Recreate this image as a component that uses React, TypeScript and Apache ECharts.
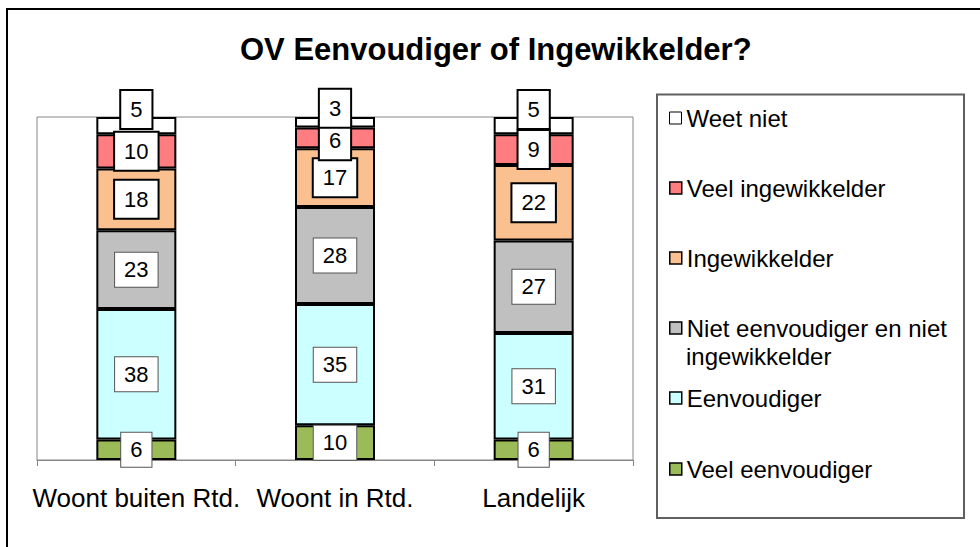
import React, { useEffect, useRef } from "react";
import * as echarts from "echarts";

const categories = ["Woont buiten Rtd.", "Woont in Rtd.", "Landelijk"];

// stacked from bottom to top
const seriesNames = [
  "Veel eenvoudiger",
  "Eenvoudiger",
  "Niet eenvoudiger en niet ingewikkelder",
  "Ingewikkelder",
  "Veel ingewikkelder",
  "Weet niet",
];
const veelEenvoudiger = [6, 10, 6];
const eenvoudiger = [38, 35, 31];
const nietNiet = [23, 28, 27];
const ingewikkelder = [18, 17, 22];
const veelIngewikkelder = [10, 6, 9];
const weetNiet = [5, 3, 5];

const seriesValues = [veelEenvoudiger, eenvoudiger, nietNiet, ingewikkelder, veelIngewikkelder, weetNiet];
const seriesColors = ["#9BBB59", "#CCFFFF", "#C0C0C0", "#FAC090", "#FF7C80", "#FFFFFF"];

// legend order, top to bottom
const legendOrder = [5, 4, 3, 2, 1, 0];

const FONT = "'Liberation Sans', Arial, sans-serif";

export default function App() {
  const ref = useRef<HTMLDivElement>(null);

  useEffect(() => {
    if (!ref.current) return;
    const chart = echarts.init(ref.current, null, { renderer: "svg" });

    const totals = categories.map((_, ci) =>
      seriesValues.reduce((s, arr) => s + arr[ci], 0)
    );

    // label layout tweaks (Excel-style moved labels)
    const labelOffsets: Record<number, number[][]> = {
      5: [[0, -16], [0, -14], [0, -16]],
      4: [[0, 0], [0, 3], [0, 0]],
    };

    const series = seriesNames.map((name, si) => {
      const thick = si >= 3;
      return {
        name,
        type: "bar",
        stack: "total",
        barWidth: 80,
        itemStyle: { color: seriesColors[si], borderColor: "#000", borderWidth: 2 },
        label: {
          show: true,
          position: "inside",
          formatter: (p: any) => String(seriesValues[si][p.dataIndex]),
          color: "#000",
          fontFamily: FONT,
          fontSize: 22,
          lineHeight: 24,
          backgroundColor: "#fff",
          borderColor: thick ? "#000" : "#555",
          borderWidth: thick ? 2 : 1,
          padding: thick ? [7, 9, 6, 9] : [5, 9, 5, 9],
        },
        emphasis: { disabled: true },
        data: seriesValues[si].map((v, ci) => {
          const item: any = { value: (v * 100) / totals[ci] };
          const off = labelOffsets[si];
          if (off && (off[ci][0] !== 0 || off[ci][1] !== 0)) {
            item.label = { offset: off[ci] };
          }
          return item;
        }),
      };
    });

    const legendCenters = [118, 188, 258, 328, 398, 469];
    const legends = legendOrder.map((si, i) => ({
      data: [seriesNames[si]],
      orient: "vertical",
      left: 669,
      top: legendCenters[i] - 13,
      padding: 0,
      itemWidth: 12,
      itemHeight: 12,
      selectedMode: false,
      icon: "rect",
      itemStyle: { borderColor: "#000", borderWidth: si === 5 ? 1 : 1.5 },
      formatter: (name: string) =>
        name === "Niet eenvoudiger en niet ingewikkelder" ? "Niet eenvoudiger en niet" : name,
      textStyle: { fontFamily: FONT, fontSize: 24, lineHeight: 26, color: "#000" },
    }));

    chart.setOption({
      animation: false,
      backgroundColor: "#fff",
      title: {
        text: "OV Eenvoudiger of Ingewikkelder?",
        left: 240,
        top: 34,
        padding: 0,
        textStyle: { fontFamily: FONT, fontSize: 31, fontWeight: "bold", color: "#000" },
      },
      legend: legends,
      grid: {
        left: 37,
        top: 117,
        width: 596,
        height: 343,
        show: true,
        borderColor: "#868686",
        borderWidth: 1,
        backgroundColor: "transparent",
      },
      xAxis: {
        type: "category",
        data: categories,
        boundaryGap: true,
        axisLine: { show: true, lineStyle: { color: "#868686", width: 1 } },
        axisTick: { show: true, length: 6, lineStyle: { color: "#868686" } },
        axisLabel: { fontFamily: FONT, fontSize: 26, color: "#000", margin: 25, interval: 0 },
      },
      yAxis: {
        type: "value",
        min: 0,
        max: 100,
        show: false,
        splitLine: { show: false },
      },
      graphic: [
        {
          type: "rect",
          shape: { x: 7, y: 9, width: 1200, height: 800 },
          style: { fill: "none", stroke: "#000", lineWidth: 2 },
          silent: true,
          z: 100,
        },
        {
          type: "rect",
          shape: { x: 657, y: 94.5, width: 307, height: 423.5 },
          style: { fill: "none", stroke: "#606060", lineWidth: 2 },
          silent: true,
        },
        {
          type: "text",
          x: 686,
          y: 356,
          style: {
            text: "ingewikkelder",
            fontFamily: FONT,
            fontSize: 24,
            fill: "#000",
            verticalAlign: "middle",
          },
          silent: true,
        },
      ],
      series,
    });

    return () => chart.dispose();
  }, []);

  return (
    <div
      ref={ref}
      style={{ position: "fixed", left: 0, top: 0, width: 980, height: 547, background: "#fff" }}
    />
  );
}
